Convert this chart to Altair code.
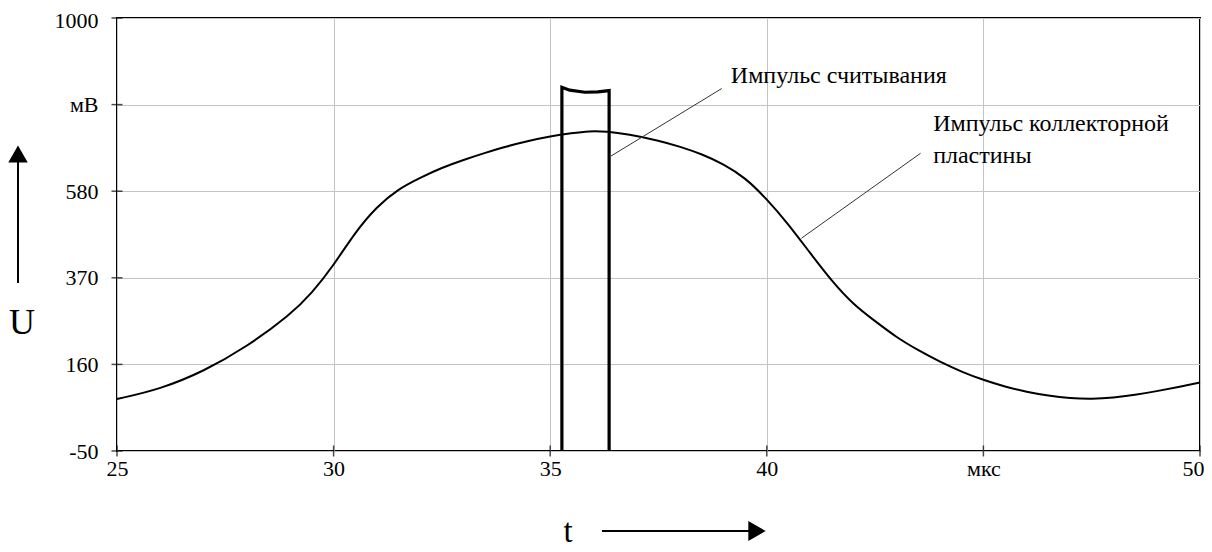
import altair as alt
import pandas as pd

# ---- data ----
t_curve = [25.0, 26.0, 27.0, 28.0, 29.0, 29.5, 30.0, 30.5, 31.0, 31.5, 32.0, 32.5,
           33.0, 33.5, 34.0, 34.5, 35.0, 35.5, 35.9, 36.3, 36.8, 37.5, 38.0, 38.5,
           39.0, 39.5, 40.0, 40.5, 41.0, 41.5, 42.0, 42.5, 43.0, 43.5, 44.0, 44.5,
           45.0, 45.5, 46.0, 46.5, 47.0, 47.5, 48.0, 48.5, 49.0, 49.5, 50.0]
u_curve = [76, 100, 143, 203, 280, 333, 400, 481, 543, 586, 613, 637,
           656, 673, 689, 702, 713, 721, 726, 725, 718, 703, 688, 670,
           646, 613, 561, 500, 430, 362, 305, 265, 225, 194, 166, 142,
           122, 106, 93, 84, 78, 76, 79, 86, 95, 105, 116]

t_pulse = [35.27, 35.27, 35.45, 35.80, 36.10, 36.36, 36.36]
u_pulse = [-50, 832, 825, 820, 821, 824, -50]

x_ticks = [25, 30, 35, 40, 45, 50]
y_ticks = [-50, 160, 370, 580, 790, 1000]
x_unit_at, x_unit = 45, "мкс"
y_unit_at, y_unit = 790, "мВ"

lead_t1 = [36.40, 40.80]
lead_u1 = [665, 466]
lead_t2 = [38.96, 43.55]
lead_u2 = [829, 672]

note_t = [39.17, 43.84, 43.84]
note_u = [843, 727, 648]
note_text = ["Импульс считывания", "Импульс коллекторной", "пластины"]

axis_x_title = "t"
axis_y_title = "U"

# ---- chart ----
FONT = "Times New Roman, Liberation Serif, DejaVu Serif, serif"
W, H = 1083, 433

xs = alt.Scale(domain=[25, 50], nice=False, zero=False)
ys = alt.Scale(domain=[-50, 1000], nice=False, zero=False)

curve_df = pd.DataFrame({"t": t_curve, "u": u_curve})
pulse_df = pd.DataFrame({"t": t_pulse, "u": u_pulse, "i": list(range(len(t_pulse)))})
lead_df = pd.DataFrame({"t": lead_t1, "u": lead_u1, "t2": lead_t2, "u2": lead_u2})
note_df = pd.DataFrame({"t": note_t, "u": note_u, "txt": note_text})
xt_df = pd.DataFrame({"t": x_ticks})
yt_df = pd.DataFrame({"u": y_ticks})
one = pd.DataFrame({"a": [0]})

x_axis = alt.Axis(values=x_ticks, title=None, grid=True, gridColor="#c4c4c4", gridWidth=1,
                  ticks=False, tickSize=0, domain=False, labelFont=FONT, labelFontSize=22,
                  labelColor="black", labelPadding=7, labelFlush=False,
                  labelOffset={"condition": {"test": f"datum.value == {x_ticks[-1]}", "value": -7},
                               "value": 0},
                  labelExpr=f"datum.value == {x_unit_at} ? '{x_unit}' : toString(datum.value)")
y_axis = alt.Axis(values=y_ticks, title=None, grid=True, gridColor="#c4c4c4", gridWidth=1,
                  ticks=False, tickSize=0, domain=False, labelFont=FONT, labelFontSize=22,
                  labelColor="black", labelPadding=19, labelFlush=False,
                  labelOffset={"condition": {"test": f"datum.value == {y_ticks[-1]}", "value": 2},
                               "value": 0},
                  labelExpr=f"datum.value == {y_unit_at} ? '{y_unit}' : toString(datum.value)")

curve = alt.Chart(curve_df).mark_line(color="black", strokeWidth=2, interpolate="basis").encode(
    x=alt.X("t:Q", scale=xs, axis=x_axis),
    y=alt.Y("u:Q", scale=ys, axis=y_axis),
)

pulse = alt.Chart(pulse_df).mark_line(color="black", strokeWidth=3.2, interpolate="linear").encode(
    x=alt.X("t:Q", scale=xs),
    y=alt.Y("u:Q", scale=ys),
    order="i:Q",
)

leaders = alt.Chart(lead_df).mark_rule(color="#333333", strokeWidth=1).encode(
    x=alt.X("t:Q", scale=xs), y=alt.Y("u:Q", scale=ys),
    x2="t2:Q", y2="u2:Q",
)

notes = alt.Chart(note_df).mark_text(align="left", baseline="alphabetic", font=FONT,
                                     fontSize=24, color="black").encode(
    x=alt.X("t:Q", scale=xs), y=alt.Y("u:Q", scale=ys), text="txt:N",
)

xticks = alt.Chart(xt_df).mark_tick(orient="vertical", size=11, thickness=1.5, color="black").encode(
    x=alt.X("t:Q", scale=xs), y=alt.value(H),
)
yticks = alt.Chart(yt_df).mark_tick(orient="horizontal", size=11, thickness=1.5, color="black").encode(
    y=alt.Y("u:Q", scale=ys), x=alt.value(0),
)

# decorative axis arrows and titles (outside the plot area)
u_line = alt.Chart(one).mark_rule(color="black", strokeWidth=2).encode(
    x=alt.value(-99), y=alt.value(265), y2=alt.value(140))
u_head = alt.Chart(one).mark_point(shape="triangle-up", filled=True, size=380, color="black",
                                   opacity=1, strokeWidth=0).encode(
    x=alt.value(-99), y=alt.value(136))
u_text = alt.Chart(one).mark_text(text=axis_y_title, font=FONT, fontSize=36, color="black",
                                  align="center", baseline="alphabetic").encode(
    x=alt.value(-95), y=alt.value(316))

t_line = alt.Chart(one).mark_rule(color="black", strokeWidth=2).encode(
    x=alt.value(485), x2=alt.value(642), y=alt.value(513))
t_head = alt.Chart(one).mark_point(shape="triangle-right", filled=True, size=400, color="black",
                                   opacity=1, strokeWidth=0).encode(
    x=alt.value(640), y=alt.value(513))
t_text = alt.Chart(one).mark_text(text=axis_x_title, font=FONT, fontSize=33, color="black",
                                  align="center", baseline="alphabetic").encode(
    x=alt.value(451), y=alt.value(524))

chart = alt.layer(
    curve, pulse, leaders, notes, xticks, yticks,
    u_line, u_head, u_text, t_line, t_head, t_text,
).properties(
    width=W, height=H,
    autosize=alt.AutoSizeParams(type="none"),
    padding={"left": 109, "top": 10, "right": 4, "bottom": 100},
    background="white",
).configure_view(
    stroke="black", strokeWidth=2,
)

chart.save("out.html", embed_options={"renderer": "svg", "actions": False})
